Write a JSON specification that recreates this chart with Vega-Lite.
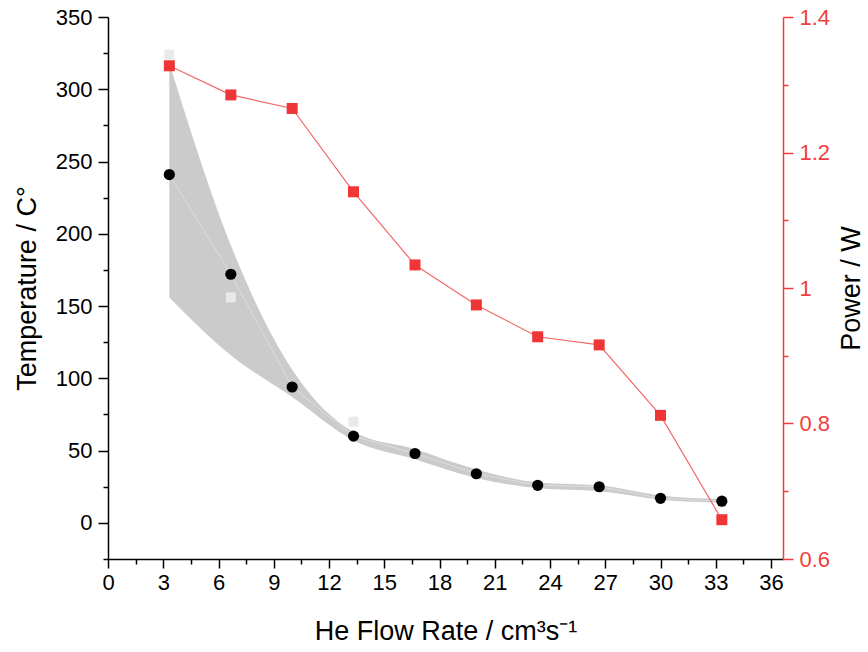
{
  "$schema": "https://vega.github.io/schema/vega-lite/v6.json",
  "width": 675,
  "height": 542,
  "autosize": {"type": "none"},
  "padding": {"left": 108, "top": 17, "right": 85, "bottom": 93},
  "background": "white",
  "config": {
    "view": {"stroke": null},
    "font": "Liberation Sans",
    "axis": {
      "grid": false,
      "labelFont": "Liberation Sans",
      "titleFont": "Liberation Sans",
      "labelFontSize": 22,
      "titleFontSize": 27,
      "titleFontWeight": "normal",
      "labelColor": "black",
      "titleColor": "black",
      "domainColor": "black",
      "tickColor": "black",
      "domainWidth": 1.5,
      "tickWidth": 1.5,
      "labelOverlap": false,
      "labelFlush": false
    }
  },
  "datasets": {
    "temperature": [
      {"flow": 3.33, "temp": 241},
      {"flow": 6.67, "temp": 172},
      {"flow": 10.0, "temp": 94},
      {"flow": 13.33, "temp": 60},
      {"flow": 16.67, "temp": 48},
      {"flow": 20.0, "temp": 34},
      {"flow": 23.33, "temp": 26},
      {"flow": 26.67, "temp": 25},
      {"flow": 30.0, "temp": 17},
      {"flow": 33.33, "temp": 15}
    ],
    "band": [
      {"flow": 3.33, "lo": 156, "hi": 318},
      {"flow": 6.67, "lo": 116, "hi": 192},
      {"flow": 10.0, "lo": 87, "hi": 106},
      {"flow": 13.33, "lo": 57, "hi": 63},
      {"flow": 16.67, "lo": 44, "hi": 51},
      {"flow": 20.0, "lo": 31, "hi": 37},
      {"flow": 23.33, "lo": 24, "hi": 28},
      {"flow": 26.67, "lo": 22, "hi": 26},
      {"flow": 30.0, "lo": 16, "hi": 19},
      {"flow": 33.33, "lo": 14, "hi": 16.5}
    ],
    "upper": [
      {"flow": 3.33, "temp": 324},
      {"flow": 6.67, "temp": 156},
      {"flow": 13.33, "temp": 70}
    ],
    "power": [
      {"flow": 3.33, "power": 1.328},
      {"flow": 6.67, "power": 1.285},
      {"flow": 10.0, "power": 1.265},
      {"flow": 13.33, "power": 1.142},
      {"flow": 16.67, "power": 1.034},
      {"flow": 20.0, "power": 0.975},
      {"flow": 23.33, "power": 0.928},
      {"flow": 26.67, "power": 0.916},
      {"flow": 30.0, "power": 0.812},
      {"flow": 33.33, "power": 0.658}
    ]
  },
  "resolve": {
    "scale": {"x": "independent", "y": "independent"},
    "axis": {"x": "independent", "y": "independent"}
  },
  "layer": [
    {
      "data": {"name": "band"},
      "mark": {"type": "area", "color": "#cbcbcb", "interpolate": "monotone"},
      "encoding": {
        "x": {
          "field": "flow", "type": "quantitative",
          "scale": {"domain": [0, 36.65], "nice": false, "zero": false},
          "axis": {
            "orient": "bottom",
            "values": [0, 3, 6, 9, 12, 15, 18, 21, 24, 27, 30, 33, 36],
            "tickSize": 9, "labelPadding": 4,
            "title": "He Flow Rate / cm³s⁻¹", "titlePadding": 25
          }
        },
        "y": {
          "field": "lo", "type": "quantitative",
          "scale": {"domain": [-25, 350], "nice": false, "zero": false},
          "axis": {
            "orient": "left",
            "values": [0, 50, 100, 150, 200, 250, 300, 350],
            "tickSize": 10, "labelPadding": 6,
            "title": "Temperature / C°", "titlePadding": 14
          }
        },
        "y2": {"field": "hi"}
      }
    },
    {
      "data": {"name": "temperature"},
      "mark": {"type": "line", "color": "#dddddd", "strokeWidth": 1},
      "encoding": {
        "x": {
          "field": "flow", "type": "quantitative",
          "scale": {"domain": [0, 36.65], "nice": false, "zero": false},
          "axis": null
        },
        "y": {
          "field": "temp", "type": "quantitative",
          "scale": {"domain": [-25, 350], "nice": false, "zero": false},
          "axis": {
            "orient": "left",
            "values": [-25, 25, 75, 125, 175, 225, 275, 325],
            "tickSize": 5, "labels": false, "domain": false, "title": null
          }
        }
      }
    },
    {
      "data": {"name": "upper"},
      "mark": {"type": "square", "color": "#e9e9e9", "opacity": 1, "size": 100},
      "encoding": {
        "x": {
          "field": "flow", "type": "quantitative",
          "scale": {"domain": [0, 36.65], "nice": false, "zero": false},
          "axis": {
            "orient": "bottom",
            "values": [1.5, 4.5, 7.5, 10.5, 13.5, 16.5, 19.5, 22.5, 25.5, 28.5, 31.5, 34.5],
            "tickSize": 5, "labels": false, "domain": false, "title": null
          }
        },
        "y": {
          "field": "temp", "type": "quantitative",
          "scale": {"domain": [-25, 350], "nice": false, "zero": false},
          "axis": null
        }
      }
    },
    {
      "data": {"name": "temperature"},
      "mark": {"type": "circle", "color": "black", "opacity": 1, "size": 125},
      "encoding": {
        "x": {
          "field": "flow", "type": "quantitative",
          "scale": {"domain": [0, 36.65], "nice": false, "zero": false},
          "axis": null
        },
        "y": {
          "field": "temp", "type": "quantitative",
          "scale": {"domain": [-25, 350], "nice": false, "zero": false},
          "axis": null
        }
      }
    },
    {
      "data": {"name": "power"},
      "mark": {"type": "line", "color": "#f26868", "strokeWidth": 1.2},
      "encoding": {
        "x": {
          "field": "flow", "type": "quantitative",
          "scale": {"domain": [0, 36.65], "nice": false, "zero": false},
          "axis": null
        },
        "y": {
          "field": "power", "type": "quantitative",
          "scale": {"domain": [0.6, 1.4], "nice": false, "zero": false},
          "axis": {
            "orient": "right",
            "values": [0.6, 0.8, 1.0, 1.2, 1.4],
            "format": "~g",
            "tickSize": 10, "labelPadding": 6,
            "domainColor": "#f23c3c", "tickColor": "#f23c3c", "labelColor": "#f04040",
            "title": "Power / W", "titlePadding": 36, "titleAngle": 270
          }
        }
      }
    },
    {
      "data": {"name": "power"},
      "mark": {"type": "square", "color": "#ef3636", "opacity": 1, "size": 121},
      "encoding": {
        "x": {
          "field": "flow", "type": "quantitative",
          "scale": {"domain": [0, 36.65], "nice": false, "zero": false},
          "axis": null
        },
        "y": {
          "field": "power", "type": "quantitative",
          "scale": {"domain": [0.6, 1.4], "nice": false, "zero": false},
          "axis": {
            "orient": "right",
            "values": [0.7, 0.9, 1.1, 1.3],
            "tickSize": 5, "labels": false, "domain": false, "title": null,
            "tickColor": "#f23c3c"
          }
        }
      }
    }
  ]
}
